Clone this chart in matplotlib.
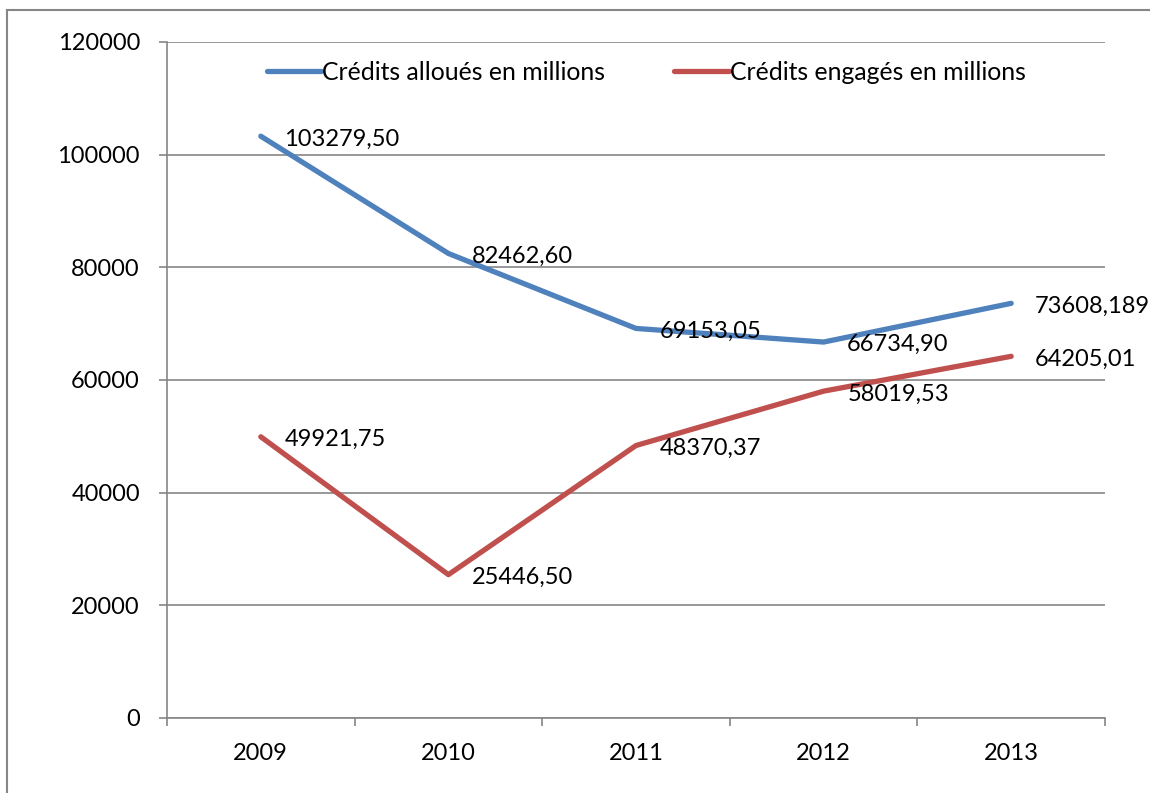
import matplotlib
matplotlib.use("Agg")
from matplotlib import pyplot as plt
from matplotlib.lines import Line2D

plt.rcParams['font.family'] = ['Lato', 'DejaVu Sans']

years = ['2009', '2010', '2011', '2012', '2013']
alloues = [103279.50, 82462.60, 69153.05, 66734.90, 73608.189]
engages = [49921.75, 25446.50, 48370.37, 58019.53, 64205.01]
labels_alloues = ['103279,50', '82462,60', '69153,05', '66734,90', '73608,189']
labels_engages = ['49921,75', '25446,50', '48370,37', '58019,53', '64205,01']
yticks = [0, 20000, 40000, 60000, 80000, 100000, 120000]

blue = '#4F81BD'
red = '#C0504D'
grey = '#868686'
fs = 17

fig = plt.figure(figsize=(11.5, 7.93), dpi=100)
ax = fig.add_axes([167/1150, 1 - 718/793, (1105 - 167)/1150, (718 - 42)/793])

x = list(range(len(years)))
ax.plot(x, alloues, color=blue, lw=3.8, solid_capstyle='round', label='Crédits alloués en millions', zorder=3)
ax.plot(x, engages, color=red, lw=3.8, solid_capstyle='round', label='Crédits engagés en millions', zorder=3)

for i in x:
    ax.annotate(labels_alloues[i], (i, alloues[i]), xytext=(17, -2), textcoords='offset points',
                va='center', ha='left', fontsize=fs, zorder=4)
    ax.annotate(labels_engages[i], (i, engages[i]), xytext=(17, -2), textcoords='offset points',
                va='center', ha='left', fontsize=fs, zorder=4)

ax.set_xlim(-0.5, len(years) - 0.5)
ax.set_ylim(0, 120000)
ax.set_yticks(yticks)
ax.set_yticklabels([str(v) for v in yticks])
ax.yaxis.grid(True, color=grey, lw=1.2)
ax.set_axisbelow(True)

ax.set_xticks([i - 0.5 for i in range(len(years) + 1)])
ax.set_xticklabels([])
ax.set_xticks(x, minor=True)
ax.set_xticklabels(years, minor=True)
ax.tick_params(axis='x', which='major', length=5.5, width=1.2, color=grey, direction='out')
ax.tick_params(axis='x', which='minor', length=0, pad=18, labelsize=fs)
ax.tick_params(axis='y', length=5.5, width=1.2, color=grey, pad=14, labelsize=fs)

for s in ['top', 'right']:
    ax.spines[s].set_visible(False)
for s in ['left', 'bottom']:
    ax.spines[s].set_color(grey)
    ax.spines[s].set_linewidth(1.2)

ax.legend(loc='center', bbox_to_anchor=(0.511, 0.955), ncol=2, frameon=False, fontsize=17.8,
          handlelength=2.2, handletextpad=0.05, columnspacing=2.8)

# outer border (left and top only visible)
fig.add_artist(Line2D([7/1150, 7/1150], [0, 1 - 10/793], color=grey, lw=1.5, transform=fig.transFigure))
fig.add_artist(Line2D([7/1150, 1], [1 - 10/793, 1 - 10/793], color=grey, lw=1.5, transform=fig.transFigure))

plt.savefig('out.png', dpi=100)
